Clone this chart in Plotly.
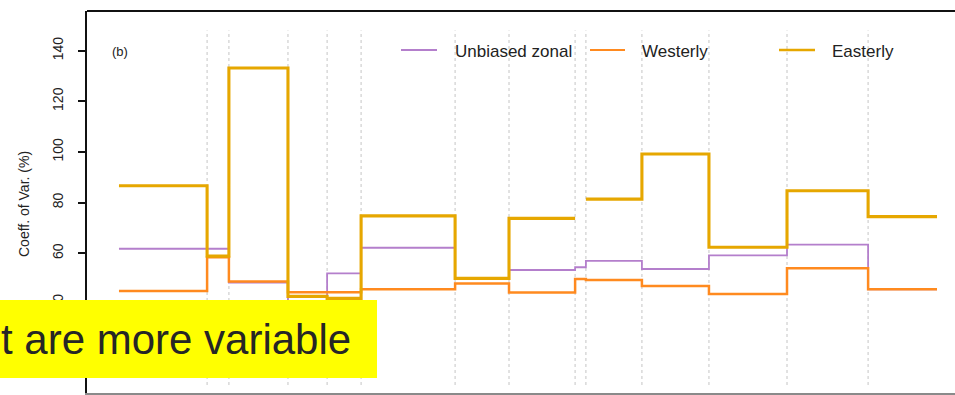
import plotly.graph_objects as go

# ---- data ----
# segment edges along the x axis (arbitrary units; tick labels are cut off in the reference)
edges = [-3.0, 34.6, 43.9, 69.1, 85.8, 100.3, 140.4, 163.4, 191.6, 196.2, 220.1, 248.7, 282.0, 316.6, 346.0]
unbiased_zonal = [61.8, 61.8, 48.4, 38.0, 52.1, 62.2, 50.0, 53.4, 54.5, 57.0, 53.8, 59.2, 63.4, 45.8]
westerly =       [45.1, 58.4, 48.9, 44.6, 44.6, 45.8, 48.1, 44.5, 49.9, 49.5, 47.1, 43.9, 54.1, 45.8]
easterly =       [86.7, 58.9, 133.2, 43.0, 42.2, 74.8, 50.1, 73.8, None, 81.4, 99.2, 62.4, 84.7, 74.5]
y_ticks = [20, 40, 60, 80, 100, 120, 140]
series_names = ["Unbiased zonal", "Westerly", "Easterly"]
y_title = "Coeff. of Var. (%)"
panel_label = "(b)"
overlay_text = "t are more variable"

# ---- styles ----
colors = ["#B47FCC", "#FF8A1F", "#E6A700"]
widths = [1.8, 2.5, 3.1]

W, H = 955, 395
L, R, T, B = 87, 0, 11, 2
pw, ph = W - L - R, H - T - B

def px_x(px):
    return (px - L) / pw

def px_y(py):
    return (H - B - py) / ph

def step(edges, vals):
    xs, ys = [], []
    for i, v in enumerate(vals):
        if v is None:
            xs.append(None); ys.append(None)
            continue
        xs += [edges[i], edges[i + 1]]
        ys += [v, v]
    return xs, ys

fig = go.Figure()
for name, vals, c, w in zip(series_names, [unbiased_zonal, westerly, easterly], colors, widths):
    xs, ys = step(edges, vals)
    fig.add_trace(go.Scatter(x=xs, y=ys, mode="lines", name=name,
                             line=dict(color=c, width=w), connectgaps=False,
                             showlegend=False, hoverinfo="skip"))

# dotted separators at internal edges
for e in edges[1:-1]:
    fig.add_shape(type="line", xref="x", yref="y", x0=e, x1=e, y0=8, y1=148,
                  line=dict(color="#CFCFCF", width=1.2, dash="dot"), layer="below")

# top frame line
fig.add_shape(type="line", xref="paper", yref="paper", x0=0, x1=1, y0=1, y1=1,
              line=dict(color="#111111", width=2))

# manual legend
leg_x = [(401, 437, 455), (590, 625, 642), (779, 815, 832)]
for (a, b, t), name, c, w in zip(leg_x, series_names, colors, widths):
    fig.add_shape(type="line", xref="paper", yref="paper", x0=px_x(a), x1=px_x(b),
                  y0=px_y(50), y1=px_y(50), line=dict(color=c, width=max(w - 0.4, 2.2)))
    fig.add_annotation(xref="paper", yref="paper", x=px_x(t - 2), y=px_y(51), text=name,
                       showarrow=False, xanchor="left", yanchor="middle",
                       font=dict(family="Liberation Sans, Arial", size=17, color="#222222"))

fig.add_annotation(xref="paper", yref="paper", x=px_x(110), y=px_y(51), text=panel_label,
                   showarrow=False, xanchor="left", yanchor="middle",
                   font=dict(family="Liberation Sans, Arial", size=13, color="#222222"))

fig.add_annotation(xref="paper", yref="paper", x=px_x(24), y=px_y(204), text=y_title,
                   showarrow=False, textangle=-90, xanchor="center", yanchor="middle",
                   font=dict(family="Liberation Sans, Arial", size=14, color="#222222"))

# yellow overlay box with text
fig.add_shape(type="rect", xref="paper", yref="paper", x0=px_x(0), x1=px_x(377),
              y0=px_y(378), y1=px_y(300), fillcolor="#FFFF00", line=dict(width=0), layer="above")
fig.add_annotation(xref="paper", yref="paper", x=px_x(-1), y=px_y(339), text=overlay_text,
                   showarrow=False, xanchor="left", yanchor="middle",
                   font=dict(family="Liberation Sans, Arial", size=42, color="#262626"))

xr = [(L - 126) * 50 / 117.2, (W - 126) * 50 / 117.2]
fig.update_layout(
    width=W, height=H, margin=dict(l=L, r=R, t=T, b=B),
    plot_bgcolor="white", paper_bgcolor="white",
    xaxis=dict(range=xr, showgrid=False, zeroline=False, showticklabels=False,
               showline=True, linecolor="#8A8A8A", linewidth=2, ticks=""),
    yaxis=dict(range=[4.84, 155.68], tickvals=y_ticks, ticks="outside", ticklen=7,
               tickwidth=1.5, tickcolor="#111111", showgrid=False, zeroline=False,
               showline=True, linecolor="#111111", linewidth=2, tickangle=-90,
               ticklabelstandoff=9,
               tickfont=dict(family="Liberation Sans, Arial", size=14, color="#222222")),
)

fig.write_html("out.html")
